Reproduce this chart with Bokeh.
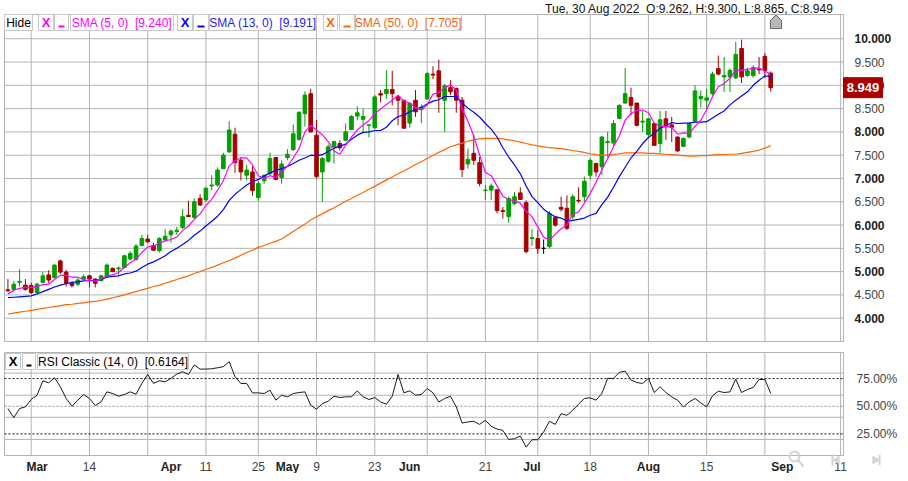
import math
import pandas as pd
from bokeh.plotting import figure
from bokeh.layouts import column
from bokeh.models import ColumnDataSource, Range1d
from bokeh.core.properties import value
from bokeh.embed import file_html
from bokeh.resources import INLINE

# trading days shown (US market holidays removed)
holidays = ["2022-04-15", "2022-05-30", "2022-06-20", "2022-07-04"]
days = pd.bdate_range("2022-02-22", "2022-08-30", freq="C", holidays=holidays)

opens = [4.61, 4.62, 4.77, 4.71, 4.70, 4.55, 4.77, 4.93, 4.87, 5.23,
         4.99, 4.76, 4.73, 4.84, 4.91, 4.84, 4.81, 4.89, 5.07, 5.06,
         5.09, 5.27, 5.26, 5.56, 5.70, 5.56, 5.45, 5.68, 5.79, 5.86,
         5.95, 6.21, 6.16, 6.57, 6.54, 6.84, 6.86, 7.21, 7.57, 7.95,
         7.39, 7.07, 7.14, 6.59, 6.95, 7.10, 7.45, 7.02, 7.45, 7.62,
         7.84, 8.39, 8.82, 7.93, 7.14, 7.37, 7.68, 7.75, 7.82, 8.05,
         8.34, 8.27, 8.14, 8.09, 8.82, 8.82, 8.91, 8.76, 8.68, 8.19,
         8.68, 8.48, 8.71, 9.24, 9.31, 8.68, 8.95, 8.93, 8.68, 7.31,
         7.54, 7.34, 6.74, 6.75, 6.76, 6.31, 6.18, 6.46, 6.69, 6.48,
         5.71, 5.71, 5.50, 5.54, 6.16, 6.38, 6.36, 6.18, 6.53, 6.61,
         7.07, 7.32, 7.25, 7.77, 7.76, 8.29, 8.62, 8.74, 8.62, 8.21,
         7.94, 8.18, 7.75, 8.28, 8.15, 7.89, 7.69, 7.89, 8.23, 8.71,
         8.68, 8.82, 9.36, 9.18, 9.18, 9.16, 9.79, 9.21, 9.21, 9.35,
         9.62, 9.262]
highs = [4.84, 4.80, 5.05, 4.84, 4.76, 4.76, 5.00, 5.03, 5.16, 5.26,
         5.04, 4.79, 4.86, 4.94, 4.93, 4.86, 4.93, 5.18, 5.09, 5.11,
         5.36, 5.44, 5.59, 5.79, 5.79, 5.62, 5.74, 5.91, 5.91, 5.96,
         6.34, 6.52, 6.57, 6.66, 6.82, 7.07, 7.24, 7.55, 8.23, 8.09,
         7.46, 7.29, 7.26, 6.95, 7.08, 7.55, 7.46, 7.39, 7.63, 8.16,
         8.44, 8.87, 8.93, 8.26, 7.46, 7.73, 7.81, 7.82, 8.18, 8.36,
         8.55, 8.50, 8.16, 8.79, 8.90, 9.32, 9.31, 8.76, 8.68, 8.64,
         8.90, 8.59, 9.29, 9.41, 9.55, 9.03, 9.11, 8.95, 8.75, 7.64,
         7.93, 7.46, 6.86, 6.89, 6.76, 6.39, 6.61, 6.71, 6.81, 6.53,
         5.91, 5.89, 5.69, 6.30, 6.18, 6.61, 6.64, 6.66, 6.81, 7.04,
         7.43, 7.34, 7.91, 8.00, 8.25, 8.59, 9.37, 8.95, 8.62, 8.45,
         8.30, 8.19, 8.45, 8.45, 8.32, 7.90, 7.88, 8.21, 9.00, 8.89,
         8.93, 9.29, 9.64, 9.61, 9.36, 9.93, 9.98, 9.38, 9.43, 9.61,
         9.69, 9.300]
lows = [4.57, 4.57, 4.68, 4.59, 4.52, 4.52, 4.75, 4.75, 4.86, 4.95,
        4.68, 4.66, 4.69, 4.82, 4.66, 4.66, 4.79, 4.88, 4.99, 4.91,
        5.07, 5.24, 5.24, 5.54, 5.62, 5.45, 5.41, 5.66, 5.62, 5.79,
        5.91, 6.18, 6.14, 6.41, 6.50, 6.75, 6.82, 7.20, 7.55, 7.12,
        6.96, 6.96, 6.63, 6.52, 6.88, 7.07, 6.96, 6.89, 7.39, 7.59,
        7.81, 8.11, 7.99, 7.00, 6.50, 7.34, 7.32, 7.60, 7.80, 8.04,
        8.25, 8.00, 7.88, 8.06, 8.63, 8.71, 8.57, 8.14, 8.07, 8.09,
        8.32, 8.19, 8.69, 9.13, 8.41, 8.00, 8.79, 8.41, 7.03, 7.21,
        7.29, 6.83, 6.54, 6.54, 6.25, 6.14, 6.05, 6.43, 6.54, 5.39,
        5.55, 5.38, 5.38, 5.50, 5.96, 6.29, 5.89, 6.12, 6.48, 6.50,
        6.98, 7.04, 7.07, 7.46, 7.71, 8.28, 8.60, 8.36, 8.12, 8.00,
        7.90, 7.70, 7.55, 7.83, 7.78, 7.57, 7.68, 7.86, 8.21, 8.52,
        8.46, 8.78, 9.21, 8.86, 8.86, 9.14, 9.05, 9.18, 9.16, 9.24,
        9.16, 8.865]
closes = [4.59, 4.73, 4.79, 4.62, 4.55, 4.73, 4.91, 4.82, 5.14, 4.99,
          4.75, 4.70, 4.82, 4.89, 4.84, 4.75, 4.91, 5.14, 5.00, 5.08,
          5.34, 5.39, 5.55, 5.71, 5.64, 5.46, 5.71, 5.76, 5.87, 5.89,
          6.18, 6.18, 6.50, 6.43, 6.79, 6.86, 7.18, 7.50, 8.04, 7.34,
          7.14, 7.18, 6.74, 6.89, 7.07, 7.43, 6.98, 7.31, 7.52, 7.96,
          8.42, 8.79, 8.00, 7.04, 7.43, 7.68, 7.79, 7.66, 8.00, 8.33,
          8.41, 8.33, 8.15, 8.75, 8.79, 8.91, 8.82, 8.68, 8.08, 8.61,
          8.43, 8.53, 9.25, 9.22, 8.75, 8.99, 8.86, 8.68, 7.19, 7.41,
          7.39, 6.89, 6.75, 6.84, 6.31, 6.29, 6.57, 6.61, 6.55, 5.43,
          5.73, 5.50, 5.50, 6.25, 6.00, 6.34, 5.93, 6.61, 6.52, 6.94,
          7.39, 7.14, 7.89, 7.79, 8.18, 8.57, 8.82, 8.57, 8.14, 8.23,
          8.28, 7.71, 8.26, 8.11, 8.10, 7.59, 7.86, 8.18, 8.88, 8.76,
          8.73, 9.24, 9.24, 9.21, 9.32, 9.66, 9.18, 9.31, 9.38, 9.33,
          9.32, 8.949]

sma5 = [4.52, 4.60, 4.64, 4.66, 4.66, 4.68, 4.72, 4.73, 4.83, 4.92,
        4.92, 4.88, 4.88, 4.83, 4.80, 4.80, 4.84, 4.91, 4.93, 4.98,
        5.09, 5.19, 5.27, 5.41, 5.53, 5.55, 5.61, 5.66, 5.69, 5.74,
        5.88, 5.98, 6.12, 6.24, 6.42, 6.55, 6.75, 6.95, 7.27, 7.38,
        7.44, 7.44, 7.29, 7.06, 7.00, 7.06, 7.02, 7.14, 7.26, 7.44,
        7.64, 8.00, 8.14, 8.04, 7.94, 7.79, 7.59, 7.52, 7.71, 7.89,
        8.04, 8.15, 8.24, 8.39, 8.49, 8.59, 8.68, 8.79, 8.66, 8.62,
        8.52, 8.47, 8.58, 8.81, 8.84, 8.95, 9.01, 8.90, 8.49, 8.23,
        7.91, 7.51, 7.13, 7.06, 6.84, 6.62, 6.55, 6.52, 6.47, 6.29,
        6.18, 5.96, 5.74, 5.68, 5.80, 5.92, 6.00, 6.23, 6.28, 6.47,
        6.68, 6.92, 7.18, 7.43, 7.68, 7.91, 8.25, 8.39, 8.46, 8.47,
        8.41, 8.19, 8.12, 8.12, 8.09, 7.95, 7.98, 7.97, 8.12, 8.25,
        8.48, 8.76, 8.97, 9.04, 9.15, 9.33, 9.32, 9.34, 9.37, 9.37,
        9.30, 9.240]
sma13 = [4.44, 4.45, 4.46, 4.47, 4.48, 4.52, 4.57, 4.62, 4.67, 4.71,
         4.74, 4.77, 4.78, 4.80, 4.81, 4.81, 4.83, 4.88, 4.90, 4.91,
         4.95, 4.97, 5.01, 5.09, 5.16, 5.21, 5.27, 5.34, 5.43, 5.50,
         5.58, 5.67, 5.78, 5.87, 5.98, 6.08, 6.19, 6.33, 6.53, 6.66,
         6.76, 6.86, 6.93, 6.98, 7.05, 7.12, 7.17, 7.21, 7.26, 7.32,
         7.39, 7.44, 7.50, 7.49, 7.51, 7.58, 7.65, 7.69, 7.74, 7.84,
         7.93, 7.99, 8.00, 8.03, 8.03, 8.10, 8.24, 8.33, 8.36, 8.43,
         8.48, 8.53, 8.60, 8.66, 8.69, 8.76, 8.76, 8.76, 8.62, 8.51,
         8.42, 8.32, 8.18, 8.06, 7.89, 7.66, 7.46, 7.29, 7.10, 6.84,
         6.61, 6.48, 6.34, 6.25, 6.18, 6.15, 6.08, 6.10, 6.12, 6.15,
         6.21, 6.25, 6.44, 6.60, 6.81, 7.04, 7.24, 7.44, 7.58, 7.75,
         7.88, 7.97, 8.08, 8.13, 8.20, 8.18, 8.19, 8.19, 8.21, 8.21,
         8.22, 8.30, 8.38, 8.45, 8.58, 8.68, 8.77, 8.86, 9.00, 9.11,
         9.20, 9.191]
sma50 = [4.09, 4.11, 4.13, 4.15, 4.17, 4.19, 4.21, 4.23, 4.25, 4.27,
         4.29, 4.30, 4.32, 4.33, 4.35, 4.36, 4.38, 4.41, 4.44, 4.47,
         4.50, 4.54, 4.57, 4.61, 4.64, 4.68, 4.71, 4.75, 4.79, 4.83,
         4.87, 4.91, 4.96, 5.00, 5.05, 5.09, 5.14, 5.19, 5.24, 5.29,
         5.35, 5.41, 5.46, 5.52, 5.56, 5.61, 5.65, 5.70, 5.78, 5.86,
         5.94, 6.02, 6.11, 6.18, 6.24, 6.31, 6.37, 6.44, 6.51, 6.57,
         6.64, 6.70, 6.77, 6.83, 6.90, 6.97, 7.03, 7.10, 7.16, 7.23,
         7.30, 7.36, 7.43, 7.50, 7.56, 7.62, 7.68, 7.72, 7.76, 7.80,
         7.83, 7.85, 7.86, 7.86, 7.86, 7.85, 7.83, 7.81, 7.78, 7.75,
         7.72, 7.70, 7.68, 7.66, 7.65, 7.64, 7.62, 7.60, 7.58, 7.56,
         7.53, 7.51, 7.50, 7.50, 7.51, 7.53, 7.55, 7.55, 7.55, 7.55,
         7.54, 7.54, 7.53, 7.52, 7.51, 7.50, 7.49, 7.48, 7.48, 7.49,
         7.49, 7.50, 7.51, 7.51, 7.52, 7.52, 7.54, 7.56, 7.58, 7.61,
         7.65, 7.705]
rsi = [47.9, 39.7, 47.9, 49.4, 56.1, 60.0, 73.0, 71.2, 75.8, 67.6,
       57.0, 50.0, 55.5, 60.6, 57.0, 50.6, 53.9, 63.0, 61.5, 59.1,
       60.6, 63.0, 60.9, 70.6, 78.8, 70.6, 73.0, 72.1, 75.2, 79.1,
       81.2, 78.8, 87.3, 83.6, 83.6, 83.9, 84.8, 85.8, 90.3, 76.7,
       70.6, 70.6, 62.1, 62.1, 61.5, 64.5, 55.5, 60.0, 58.5, 61.5,
       62.4, 63.0, 50.9, 47.3, 52.4, 54.5, 59.1, 57.9, 58.5, 58.5,
       63.9, 58.5, 56.1, 57.9, 53.9, 51.8, 59.1, 78.8, 62.1, 63.9,
       60.0, 60.6, 66.1, 62.1, 53.9, 57.0, 59.0, 49.4, 34.8, 35.8,
       36.4, 33.6, 37.3, 31.8, 29.4, 28.2, 20.0, 20.6, 23.0, 13.0,
       19.7, 19.7, 26.7, 36.4, 33.6, 43.3, 41.8, 46.4, 51.8, 57.0,
       57.6, 55.5, 61.5, 75.2, 75.2, 80.6, 81.8, 73.6, 71.5, 70.6,
       75.2, 62.4, 67.6, 62.4, 58.5, 55.5, 49.4, 53.9, 57.0, 53.0,
       49.4, 59.4, 63.6, 62.4, 63.0, 74.5, 62.4, 65.2, 67.0, 74.2,
       74.2, 61.64]

# x axis: grid every second Monday, month names and day numbers as labels
grid_dates = ["2022-02-28", "2022-03-14", "2022-03-28", "2022-04-11", "2022-04-25",
              "2022-05-09", "2022-05-23", "2022-06-06", "2022-06-21", "2022-07-05",
              "2022-07-18", "2022-08-01", "2022-08-15", "2022-08-29", "2022-09-11"]
month_dates = ["2022-03-01", "2022-04-01", "2022-05-02", "2022-06-01",
               "2022-07-01", "2022-08-01", "2022-09-01"]
day_dates = ["2022-03-14", "2022-04-11", "2022-04-25", "2022-05-09", "2022-05-23",
             "2022-06-21", "2022-07-18", "2022-08-15", "2022-09-11"]
price_ticks = [4.0, 4.5, 5.0, 5.5, 6.0, 6.5, 7.0, 7.5, 8.0, 8.5, 9.0, 9.5, 10.0]
rsi_grid = [20, 40, 60, 80]
rsi_levels = [25, 50, 75]

FONT = "Liberation Sans"
GREEN, RED = "#00a000", "#a80000"
C5, C13, C50 = "#ff00ff", "#0000ff", "#ff6600"
GRID = "#b4b4b4"
GAP = " \u00a0"          # double space that survives svg whitespace folding
W = 900
FL, FR = 4, 57          # pixels left / right of the plotting panels
X0, X1 = -0.59, 143.5   # visible index span

n = len(days)
last = days[-1]


def pos(d):
    d = pd.Timestamp(d)
    if d <= last:
        return int(days.searchsorted(d))
    return n - 1 + (d - last).days   # future part is in calendar days


def panel(height, top, bottom, y0, y1):
    ux = (X1 - X0) / (W - FL - FR)
    uy = (y1 - y0) / (height - top - bottom)
    f = figure(width=W, height=height,
               x_range=Range1d(X0 - FL * ux, X1 + FR * ux),
               y_range=Range1d(y0 - bottom * uy, y1 + top * uy),
               toolbar_location=None, output_backend="svg",
               x_axis_location=None, y_axis_location=None, min_border=0)
    f.outline_line_color = None
    f.grid.visible = False

    def fx(px):
        return X0 + (px - FL) * ux

    def fy(py):
        return y1 - (py - top) * uy
    return f, fx, fy


def frame(f, y0, y1, yticks):
    gx = [pos(d) for d in grid_dates]
    f.segment(x0=gx, y0=[y0] * len(gx), x1=gx, y1=[y1] * len(gx), color=GRID)
    f.segment(x0=[X0] * len(yticks), y0=yticks, x1=[X1] * len(yticks), y1=yticks,
              color=GRID)
    f.quad(left=X0, right=X1, bottom=y0, top=y1, fill_color=None, line_color=GRID)


def txt(f, x, y, t, size="12px", style="normal", color="#333333", align="left",
        dx=0, dy=0):
    f.text(x=x, y=y, text=t, x_offset=dx, y_offset=dy, text_align=align,
           text_baseline="middle", text_font=value(FONT), text_font_size=size,
           text_font_style=style, text_color=color)


def legend_box(f, fx, fy, x0, x1, ya, yb, text, color, bold=False):
    f.quad(left=fx(x0), right=fx(x1), top=fy(ya), bottom=fy(yb),
           fill_color="white", line_color="#c8c8c8")
    if text == "_":
        f.quad(left=fx(x0 + 4), right=fx(x1 - 4), top=fy(yb - 5), bottom=fy(yb - 3),
               fill_color=color, line_color=None)
    else:
        txt(f, [fx((x0 + x1) / 2)], [fy((ya + yb) / 2)], [text],
            size="13px" if bold else "12px",
            style="bold" if bold else "normal", color=color, align="center")


colors = [GREEN if c > o else RED if c < o else "black" for o, c in zip(opens, closes)]
src = ColumnDataSource(dict(x=list(range(n)), h=highs, l=lows,
                            top=[max(o, c) for o, c in zip(opens, closes)],
                            bot=[min(o, c) for o, c in zip(opens, closes)],
                            color=colors, s5=sma5, s13=sma13, s50=sma50, rsi=rsi))

# ---------------- price panel
P0, P1 = 3.5, 10.52
p, px, py = panel(346, 14, 5, P0, P1)
frame(p, P0, P1, price_ticks)
p.segment(x0="x", y0="l", x1="x", y1="h", color="color", line_width=1, source=src)
p.vbar(x="x", top="top", bottom="bot", width=0.62, fill_color="color",
       line_color="color", source=src)
p.line("x", "s50", color=C50, line_width=1.2, source=src)
p.line("x", "s13", color=C13, line_width=1.2, source=src)
p.line("x", "s5", color=C5, line_width=1.2, source=src)

whole = [t for t in price_ticks if t == int(t)]
half = [t for t in price_ticks if t != int(t)]
txt(p, [X1] * len(whole), whole, [f"{t:.3f}" for t in whole], style="bold",
    color="#222222", dx=11)
txt(p, [X1] * len(half), half, [f"{t:.3f}" for t in half], color="#444444", dx=11)

# last close marker on the price scale
p.rect(x=[px(862.5)], y=[closes[-1]], width=39, height=20, width_units="screen",
       height_units="screen", fill_color=RED, line_color=RED)
txt(p, [px(862.5)], [closes[-1]], [f"{closes[-1]:.3f}"], size="13px", style="bold",
    color="white", align="center")

head = (f"{last:%a, %d %b %Y}{GAP}O:{opens[-1]:.3f}, H:{highs[-1]:.3f}, "
        f"L:{lows[-1]:.3f}, C:{closes[-1]:.3f}")
txt(p, [px(833)], [py(8)], [head], color="#111111", align="right")

# scroll marker
hx = [770, 781, 781, 775.5, 770]
hy = [28, 28, 20, 14.5, 20]
p.patch([px(v) for v in hx], [py(v) for v in hy], fill_color="#b8b8b8",
        line_color="#666666")

legend_items = [
    (4, 32, "Hide", "#000000", False),
    (38, 53, "X", C5, True), (54, 68, "_", C5, True),
    (70, 173, f"SMA (5, 0){GAP}[{sma5[-1]:.3f}]", C5, False),
    (177, 192, "X", C13, True), (193, 208, "_", C13, True),
    (209, 316, f"SMA (13, 0){GAP}[{sma13[-1]:.3f}]", "#2222ff", False),
    (323, 337, "X", C50, True), (339, 354, "_", C50, True),
    (355, 461, f"SMA (50, 0){GAP}[{sma50[-1]:.3f}]", "#ee6611", False),
]
for x0, x1, t, col, b in legend_items:
    legend_box(p, px, py, x0, x1, 14, 30, t, col, b)

# ---------------- RSI panel
R0, R1 = 5.45, 98.6
r, rx, ry = panel(127, 6, 18, R0, R1)
frame(r, R0, R1, rsi_grid)
for lv in rsi_levels:
    r.line([X0, X1], [lv, lv], line_dash="2 2", line_width=1,
           color="#888888" if lv == 50 else "#111111")
r.line("x", "rsi", color="#1a1a1a", line_width=1, source=src)

txt(r, [X1] * len(rsi_levels), rsi_levels, [f"{v:.2f}%" for v in rsi_levels],
    color="#444444", dx=13)

mpos = [pos(d) for d in month_dates]
dpos = [pos(d) for d in day_dates]
txt(r, mpos, [ry(120)] * len(mpos), [pd.Timestamp(d).strftime("%b") for d in month_dates],
    style="bold", color="#222222", align="center")
txt(r, dpos, [ry(120)] * len(dpos), [str(pd.Timestamp(d).day) for d in day_dates],
    color="#444444", align="center")

legend_box(r, rx, ry, 5, 20, 7, 23, "X", "#000000", True)
legend_box(r, rx, ry, 22, 35, 7, 23, "_", "#000000", True)
legend_box(r, rx, ry, 37, 188, 7, 23,
           f"RSI Classic (14, 0){GAP}[{rsi[-1] / 100:.4f}]", "#000000", False)

# faint navigation icons under the scale
ICON = "#d4d4d4"
r.scatter([rx(794)], [ry(110)], marker="circle", size=10, fill_color=None,
          line_color=ICON, line_width=2)
r.segment(x0=[rx(798)], y0=[ry(114)], x1=[rx(803)], y1=[ry(120)], color=ICON, line_width=2)
r.segment(x0=[rx(832), rx(879)], y0=[ry(108)] * 2, x1=[rx(832), rx(879)],
          y1=[ry(119)] * 2, color=ICON, line_width=2)
r.scatter([rx(836.5), rx(874.5)], [ry(113.5)] * 2, marker="triangle", size=9,
          angle=[math.pi / 2, -math.pi / 2], fill_color=ICON, line_color=None)

layout = column(p, r)
open("out.html", "w").write(file_html(layout, INLINE))
